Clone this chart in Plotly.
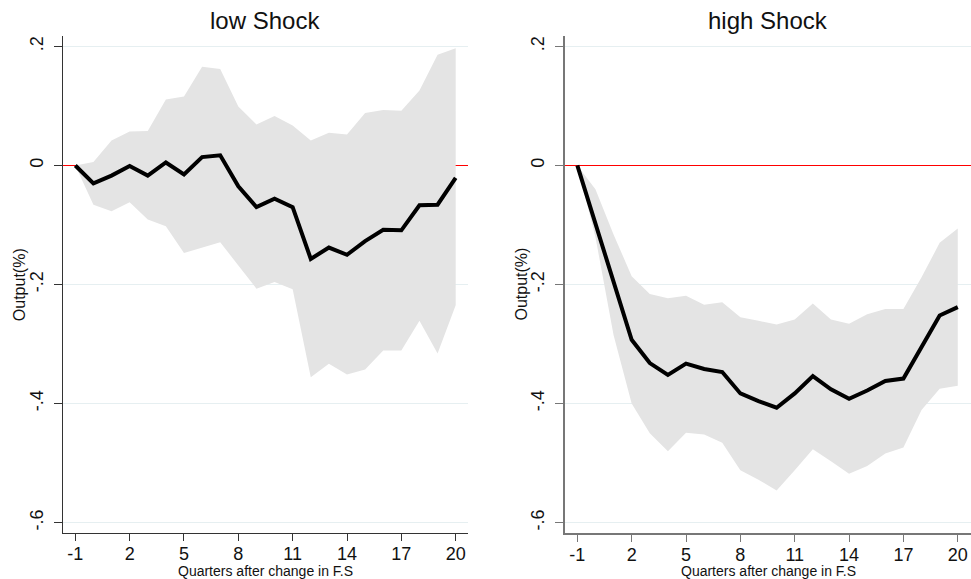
import plotly.graph_objects as go
from plotly.subplots import make_subplots

quarters = list(range(-1, 21))

low_irf = [0, -0.030, -0.017, -0.001, -0.017, 0.005, -0.015, 0.014, 0.017, -0.035, -0.070,
           -0.056, -0.070, -0.157, -0.138, -0.150, -0.127, -0.108, -0.109, -0.067, -0.066, -0.021]
low_upper = [0, 0.006, 0.042, 0.057, 0.058, 0.111, 0.116, 0.166, 0.162, 0.099, 0.069,
             0.083, 0.067, 0.042, 0.055, 0.052, 0.088, 0.093, 0.092, 0.126, 0.186, 0.197]
low_lower = [0, -0.066, -0.077, -0.062, -0.091, -0.102, -0.147, -0.138, -0.129, -0.168, -0.207,
             -0.196, -0.208, -0.356, -0.333, -0.351, -0.343, -0.311, -0.311, -0.261, -0.316, -0.235]

high_irf = [0, -0.097, -0.195, -0.293, -0.332, -0.352, -0.333, -0.342, -0.347, -0.383, -0.396,
            -0.407, -0.383, -0.354, -0.376, -0.392, -0.378, -0.362, -0.358, -0.305, -0.252, -0.238]
high_upper = [0, -0.040, -0.116, -0.186, -0.216, -0.223, -0.219, -0.234, -0.230, -0.255, -0.261,
              -0.267, -0.259, -0.232, -0.259, -0.266, -0.250, -0.241, -0.241, -0.188, -0.130, -0.106]
high_lower = [0, -0.120, -0.285, -0.400, -0.450, -0.480, -0.449, -0.452, -0.466, -0.512, -0.528,
              -0.546, -0.512, -0.477, -0.497, -0.518, -0.505, -0.484, -0.474, -0.411, -0.375, -0.370]

panels = [("low Shock", low_irf, low_upper, low_lower),
          ("high Shock", high_irf, high_upper, high_lower)]

x_ticks = [-1, 2, 5, 8, 11, 14, 17, 20]
x_tick_text = ["-1", "2", "5", "8", "11", "14", "17", "20"]
y_ticks = [-0.6, -0.4, -0.2, 0, 0.2]
y_tick_text = ["-.6", "-.4", "-.2", "0", ".2"]

W, H = 971, 579
BAND = "#e4e4e4"
GRID = "#e6eff1"
TXT = "#111111"
FONT = "Liberation Sans, Arial, sans-serif"

fig = make_subplots(rows=1, cols=2)

for i, (name, irf, upper, lower) in enumerate(panels, start=1):
    fig.add_trace(go.Scatter(x=quarters, y=upper, mode="lines", line=dict(width=0),
                             hoverinfo="skip", showlegend=False), row=1, col=i)
    fig.add_trace(go.Scatter(x=quarters, y=lower, mode="lines", line=dict(width=0),
                             fill="tonexty", fillcolor=BAND,
                             hoverinfo="skip", showlegend=False), row=1, col=i)
    fig.add_trace(go.Scatter(x=quarters, y=irf, mode="lines",
                             line=dict(color="black", width=4),
                             showlegend=False), row=1, col=i)

axis_color = {1: "#333333", 2: "#777777"}
x_domains = {1: [62.7 / W, 468 / W], 2: [565 / W, 1.0]}
x_ranges = {1: [-1.696, 20.68], 2: [-1.68, 20.73]}

for i in (1, 2):
    fig.update_xaxes(
        domain=x_domains[i], range=x_ranges[i],
        tickvals=x_ticks, ticktext=x_tick_text, ticks="outside", ticklen=7,
        tickcolor=axis_color[i],
        showline=True, linecolor=axis_color[i], linewidth=1 if i == 1 else 2,
        showgrid=False, zeroline=False, ticklabelstandoff=-3,
        tickfont=dict(size=18, color=TXT, family=FONT),
        row=1, col=i,
    )
    fig.update_yaxes(
        range=[-0.6175, 0.2175],
        tickvals=y_ticks, ticktext=y_tick_text, tickangle=-90,
        ticks="outside", ticklen=8, tickcolor=axis_color[i],
        showline=True, linecolor=axis_color[i], linewidth=1 if i == 1 else 2,
        showgrid=True, gridcolor=GRID, gridwidth=1,
        zeroline=True, zerolinecolor="#ff0000", zerolinewidth=1,
        tickfont=dict(size=18, color=TXT, family=FONT),
        ticklabelstandoff=4,
        row=1, col=i,
    )

    d0, d1 = x_domains[i]
    fig.add_annotation(text=panels[i - 1][0], x=(d0 + d1) / 2, y=1.0,
                       xref="paper", yref="paper",
                       xanchor="center", yanchor="middle", yshift=16, showarrow=False,
                       font=dict(size=24, color=TXT, family=FONT))
    fig.add_annotation(text="Quarters after change in F.S", x=(d0 + d1) / 2, y=0,
                       xref="paper", yref="paper", xanchor="center", yanchor="middle",
                       yshift=-38, showarrow=False,
                       font=dict(size=14, color=TXT, family=FONT))
    fig.add_annotation(text="Output(%)", x=d0, y=0.5, xref="paper", yref="paper",
                       xanchor="center", yanchor="middle", textangle=-90,
                       xshift=-43 if i == 1 else -44, showarrow=False,
                       font=dict(size=16, color=TXT, family=FONT))

fig.update_layout(
    width=W, height=H,
    margin=dict(l=0, r=0, t=36, b=46),
    plot_bgcolor="white", paper_bgcolor="white",
    font=dict(family=FONT),
)

# drop the default page margin so the figure fills the window
fig.write_html("out.html", config={"displayModeBar": False},
               post_script="document.body.style.margin='0';"
                           "document.body.style.overflow='hidden';")
